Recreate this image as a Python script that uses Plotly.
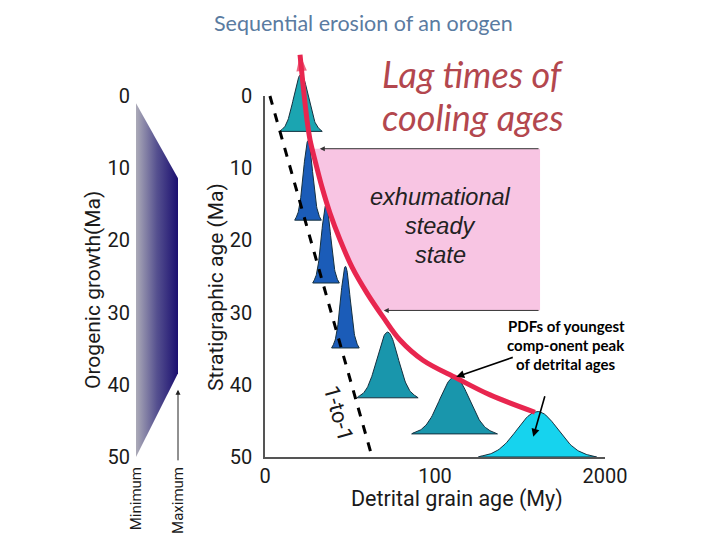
import numpy as np
import plotly.graph_objects as go

# ---------------- data ----------------
# Orogenic growth envelope (Ma) for minimum -> maximum extent
growth_age = [1.0, 11.4, 38.4, 50.0]
growth_extent = [0.0, 1.0, 1.0, 0.0]   # 0 = Minimum, 1 = Maximum

# PDFs of youngest component peak of detrital ages
pdf_peak_age = [21.2, 25.3, 35.9, 47.3, 72.1, 111.5, 160.3]     # grain age (axis units)
pdf_strat_age = [4.9, 17.2, 25.9, 34.9, 41.8, 46.8, 50.0]       # stratigraphic age (Ma)
pdf_sigma = [4.3, 2.7, 2.7, 2.8, 6.2, 8.7, 12.0]
pdf_height = [7.9, 11.0, 10.8, 11.3, 9.1, 7.9, 6.3]
pdf_color = ["#1ba5b1", "#1b5cb8", "#1b5cb8", "#1b5cb8", "#1996ac", "#1996ac", "#16d3ee"]

# Lag-time curve (grain age vs stratigraphic age), bottom -> top
lag_grain_age = [158.8, 132.4, 112.9, 92.9, 79.4, 69.4, 60.0, 51.2, 44.1, 38.2, 33.5,
                 29.4, 26.5, 24.7, 22.4, 20.6]
lag_strat_age = [43.8, 41.4, 39.1, 36.6, 33.8, 30.6, 27.3, 23.7, 19.9, 16.2, 12.6,
                 8.9, 6.1, 3.3, -1.5, -5.7]

# 1-to-1 line
one_to_one_x = [2.9, 63.0]
one_to_one_y = [0.0, 50.0]

# Exhumational steady state box
ess_top, ess_bottom, ess_right = 7.3, 29.7, 161.8

# axis ticks
x_tickvals = [0, 100, 200]
x_ticktext = ["0", "100", "2000"]
y_tickvals = [0, 10, 20, 30, 40, 50]

# ---------------- layout helpers ----------------
W, H = 720, 540
OFF = 8                      # page offset of the plot div (body margin)
X0_PX, XS = 265.0, 1.7      # page px of grain age 0, px per unit
Y0_PX, YS = 96.0, 7.22      # page px of strat age 0, px per Ma


def px2x(p):
    return (p - X0_PX) / XS


def py2y(p):
    return (p - Y0_PX) / YS


def pxf(p):
    return (p - OFF) / W


def pyf(p):
    return 1 - (p - OFF) / H


AX_FONT = dict(family="Roboto", size=20, color="#1a1a1a")

fig = go.Figure()

# --- exhumational steady-state pink region (bounded by the lag curve) ---
cy = np.array(lag_strat_age[::-1])
cx = np.array(lag_grain_age[::-1])
x_top = float(np.interp(ess_top, cy, cx))
x_bot = float(np.interp(ess_bottom, cy, cx))
inside = (cy > ess_top) & (cy < ess_bottom)
poly_x = [ess_right, x_top] + list(cx[inside]) + [x_bot, ess_right, ess_right]
poly_y = [ess_top, ess_top] + list(cy[inside]) + [ess_bottom, ess_bottom, ess_top]
fig.add_trace(go.Scatter(x=poly_x, y=poly_y, fill="toself", fillcolor="#f8c5e3",
                         line=dict(width=0), mode="lines", hoverinfo="skip",
                         showlegend=False, xaxis="x", yaxis="y"))

# --- PDFs ---
for mu, base, sig, h, col in zip(pdf_peak_age, pdf_strat_age, pdf_sigma, pdf_height, pdf_color):
    z = np.linspace(-2.9, 2.9, 80)
    xs = mu + z * sig
    ys = base - h * np.exp(-0.5 * z ** 2)
    xs = np.concatenate([xs, [xs[0]]])
    ys = np.concatenate([ys, [base]])
    ys[0] = base
    ys[-2] = base
    fig.add_trace(go.Scatter(x=xs, y=ys, fill="toself", fillcolor=col, mode="lines",
                             line=dict(color="#15303f", width=1), hoverinfo="skip",
                             showlegend=False, xaxis="x", yaxis="y"))

# --- 1-to-1 dashed line ---
fig.add_trace(go.Scatter(x=one_to_one_x, y=one_to_one_y, mode="lines",
                         line=dict(color="black", width=3, dash="dash"),
                         showlegend=False, hoverinfo="skip", xaxis="x", yaxis="y"))

# --- lag curve with arrow ---
n = len(lag_grain_age)
fig.add_trace(go.Scatter(x=lag_grain_age, y=lag_strat_age, mode="lines+markers",
                         line=dict(color="#e8264f", width=5, shape="spline"),
                         marker=dict(symbol="arrow", angleref="previous",
                                     size=[0] * (n - 1) + [17], color="#e8264f",
                                     line=dict(width=0)),
                         showlegend=False, hoverinfo="skip", xaxis="x", yaxis="y"))

# --- visible stratigraphic axes (no data) ---
fig.add_trace(go.Scatter(x=[None], y=[None], xaxis="x2", yaxis="y2", showlegend=False))

# --- orogenic growth panel ---
gx = list(growth_extent) + [growth_extent[0]]
gy = list(growth_age) + [growth_age[0]]
fig.add_trace(go.Scatter(x=gx, y=gy, fill="toself", mode="lines", line=dict(width=0),
                         fillgradient=dict(type="horizontal",
                                           colorscale=[[0, "#acabb8"], [0.5, "#55508f"], [1, "#1b0f70"]]),
                         hoverinfo="skip", showlegend=False, xaxis="x3", yaxis="y3"))

fig.update_layout(
    template="none",
    width=W, height=H, margin=dict(l=0, r=0, t=0, b=0, pad=0, autoexpand=False),
    paper_bgcolor="white", plot_bgcolor="rgba(0,0,0,0)", showlegend=False,
    xaxis=dict(domain=[0, 1], range=[px2x(OFF), px2x(OFF + W)], visible=False, anchor="y", automargin=False),
    yaxis=dict(domain=[0, 1], range=[py2y(OFF + H), py2y(OFF)], visible=False, anchor="x", automargin=False),
    xaxis2=dict(domain=[pxf(X0_PX), pxf(X0_PX + 200 * XS)], range=[0, 200], anchor="y2",
                showline=True, linecolor="#555", linewidth=1.5, showgrid=False, zeroline=False,
                tickvals=x_tickvals, ticktext=x_ticktext, ticks="", tickfont=AX_FONT,
                ticklabelstandoff=0, automargin=False),
    yaxis2=dict(domain=[pyf(Y0_PX + 50 * YS), pyf(Y0_PX)], range=[50, 0], anchor="x2",
                showline=True, linecolor="#555", linewidth=1.5, showgrid=False, zeroline=False,
                tickvals=y_tickvals, ticks="", tickfont=AX_FONT, ticklabelstandoff=7, automargin=False),
    xaxis3=dict(domain=[pxf(136), pxf(178)], range=[0, 1], anchor="y3",
                showline=False, showgrid=False, zeroline=False,
                tickvals=[0, 1], ticktext=["Minimum", "Maximum"], tickangle=-90, ticks="",
                tickfont=dict(family="Roboto", size=15, color="#1a1a1a"), ticklabelstandoff=6,
                automargin=False),
    yaxis3=dict(domain=[pyf(Y0_PX + 50 * YS), pyf(Y0_PX)], range=[50, 0], anchor="x3",
                showline=False, showgrid=False, zeroline=False,
                tickvals=y_tickvals, ticks="", tickfont=AX_FONT, ticklabelstandoff=5, automargin=False),
)


def label(text, x, y, size, family="Roboto", color="#1a1a1a", angle=0, yanchor="middle", **fkw):
    return dict(text=text, x=pxf(x), y=pyf(y), xref="paper", yref="paper",
                xanchor="center", yanchor=yanchor, showarrow=False, textangle=angle, borderpad=0,
                font=dict(family=family, size=size, color=color, **fkw))


ann = []
ann.append(label("Sequential erosion of an orogen", 363, OFF + 1, 21.5, "Lato", "#5a7ba1", yanchor="top"))
ann.append(label("Lag times of", 473, 74, 36, "Lato", "#b3474e", style="italic"))
ann.append(label("cooling ages", 473, 117, 36, "Lato", "#b3474e", style="italic"))
ann.append(label("exhumational", 440, 197, 23.5, "Liberation Sans", "#222", style="italic"))
ann.append(label("steady", 440, 226, 23.5, "Liberation Sans", "#222", style="italic"))
ann.append(label("state", 440, 255, 23.5, "Liberation Sans", "#222", style="italic"))
ann.append(label("PDFs of youngest", 566, 326, 15, "Lato", "black", weight="bold"))
ann.append(label("comp-onent peak", 566, 345, 15, "Lato", "black", weight="bold"))
ann.append(label("of detrital ages", 566, 364, 15, "Lato", "black", weight="bold"))
ann.append(label("Stratigraphic age (Ma)", 216, 287, 21, angle=-90))
ann.append(label("Orogenic growth(Ma)", 93, 290, 21, angle=-90))
ann.append(label("Detrital grain age (My)", 457, 499, 21.5))
ann.append(label("1-to-1", 339, 413, 22, angle=74))

# arrows
ann.append(dict(x=x_top + 4.5, y=ess_top, xref="x", yref="y", ax=ess_right, ay=ess_top, axref="x", ayref="y",
                showarrow=True, arrowhead=2, arrowsize=1, arrowwidth=1, arrowcolor="#333", text=""))
ann.append(dict(x=x_bot + 3, y=ess_bottom, xref="x", yref="y", ax=ess_right, ay=ess_bottom, axref="x", ayref="y",
                showarrow=True, arrowhead=2, arrowsize=1, arrowwidth=1, arrowcolor="#333", text=""))
ann.append(dict(x=pdf_peak_age[5] + 1, y=pdf_strat_age[5] - pdf_height[5], xref="x", yref="y", ax=58, ay=-20,
                showarrow=True, arrowhead=2, arrowsize=1, arrowwidth=1.6, arrowcolor="black", text=""))
ann.append(dict(x=pdf_peak_age[6] - 2.5, y=pdf_strat_age[6] - 2.8, xref="x", yref="y", ax=12, ay=-42,
                showarrow=True, arrowhead=2, arrowsize=1, arrowwidth=1.6, arrowcolor="black", text=""))
ann.append(dict(x=1, y=40.7, xref="x3", yref="y3", ax=0, ay=72,
                showarrow=True, arrowhead=2, arrowsize=1, arrowwidth=1, arrowcolor="#222", text=""))
fig.update_layout(annotations=ann)

fig.write_html("out.html")
